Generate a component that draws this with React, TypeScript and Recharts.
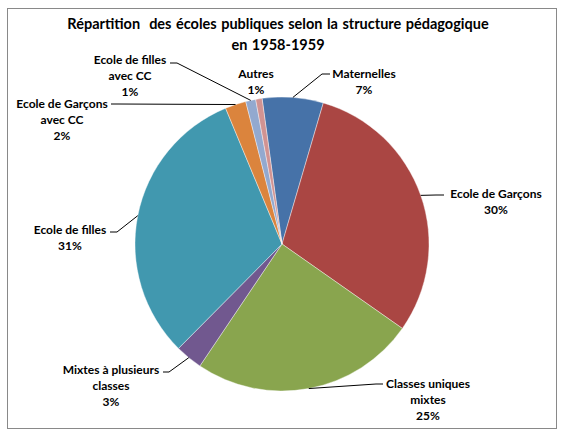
import { Cell, Pie, PieChart } from "recharts";

const categories = [
  "Maternelles",
  "Ecole de Garçons",
  "Classes uniques mixtes",
  "Mixtes à plusieurs classes",
  "Ecole de filles",
  "Ecole de Garçons avec CC",
  "Ecole de filles avec CC",
  "Autres",
];

// share of schools (%)
const shares = [6.7, 30.2, 24.7, 3.0, 31.3, 2.3, 1.1, 0.7];

const colors = ["#4672A8", "#AA4643", "#89A54E", "#71588F", "#4198AF", "#DB843D", "#93A9CF", "#D19392"];

// how each category name is broken over lines in its label
const labelLines = [
  ["Maternelles"],
  ["Ecole de Garçons"],
  ["Classes uniques", "mixtes"],
  ["Mixtes à plusieurs", "classes"],
  ["Ecole de filles"],
  ["Ecole de Garçons", "avec CC"],
  ["Ecole de filles", "avec CC"],
  ["Autres"],
];

// Excel-style hand placed labels: text centre, first line y, leader start + elbow
const labelLayout = [
  { x: 364, y: 73, lead: [330, 74, 322, 74] },
  { x: 496, y: 193, lead: [444, 195, 436, 195] },
  { x: 428, y: 383, lead: [383, 384, 376, 384] },
  { x: 111, y: 369, lead: [163, 372, 169, 372] },
  { x: 70, y: 229, lead: [110, 232, 117, 232] },
  { x: 62, y: 103, lead: [111, 104, 118, 104] },
  { x: 130, y: 59, lead: [170, 63, 177, 63] },
  { x: 256, y: 73, lead: null },
];

const data = categories.map((name, i) => ({ name, value: shares[i] }));

const font = "Lato, Carlito, 'DejaVu Sans', sans-serif";
const RAD = Math.PI / 180;

function renderLabel(props: any) {
  const { cx, cy, midAngle, outerRadius, percent, index } = props;
  const layout = labelLayout[index];
  const lines = [...labelLines[index], `${Math.round(percent * 100)}%`];
  const ex = cx + outerRadius * Math.cos(-midAngle * RAD);
  const ey = cy + outerRadius * Math.sin(-midAngle * RAD);
  return (
    <g key={`lbl-${index}`}>
      {layout.lead && (
        <polyline
          points={`${layout.lead[0]},${layout.lead[1]} ${layout.lead[2]},${layout.lead[3]} ${ex},${ey}`}
          fill="none"
          stroke="#000"
          strokeWidth={1}
        />
      )}
      {lines.map((t, j) => (
        <text
          key={j}
          x={layout.x}
          y={layout.y + j * 16}
          textAnchor="middle"
          dominantBaseline="central"
          fontFamily={font}
          fontWeight={700}
          fontSize={12}
          fill="#000"
        >
          {t}
        </text>
      ))}
    </g>
  );
}

export default function App() {
  return (
    <div style={{ position: "absolute", left: 0, top: 0, width: 566, height: 442, background: "#fff" }}>
      <div
        style={{
          position: "absolute",
          left: 7,
          top: 8,
          width: 548,
          height: 419,
          border: "1px solid #898989",
        }}
      />
      <div
        style={{
          position: "absolute",
          left: 0,
          width: 556,
          top: 13,
          textAlign: "center",
          fontFamily: font,
          fontWeight: 700,
          fontSize: 14.5,
          lineHeight: "21px",
          color: "#000",
          wordSpacing: 1,
        }}
      >
        Répartition&nbsp; des écoles publiques selon la structure pédagogique
        <br />
        en 1958-1959
      </div>
      <div style={{ position: "absolute", left: 0, top: 0 }}>
        <PieChart width={566} height={442} margin={{ top: 0, right: 0, bottom: 0, left: 0 }}>
          <Pie
            data={data}
            dataKey="value"
            nameKey="name"
            cx={282}
            cy={244}
            outerRadius={147}
            startAngle={97.8}
            endAngle={-262.2}
            stroke="#ffffff"
            strokeWidth={0.4}
            label={renderLabel}
            labelLine={false}
            isAnimationActive={false}
          >
            {data.map((d, i) => (
              <Cell key={d.name} fill={colors[i]} />
            ))}
          </Pie>
        </PieChart>
      </div>
    </div>
  );
}
